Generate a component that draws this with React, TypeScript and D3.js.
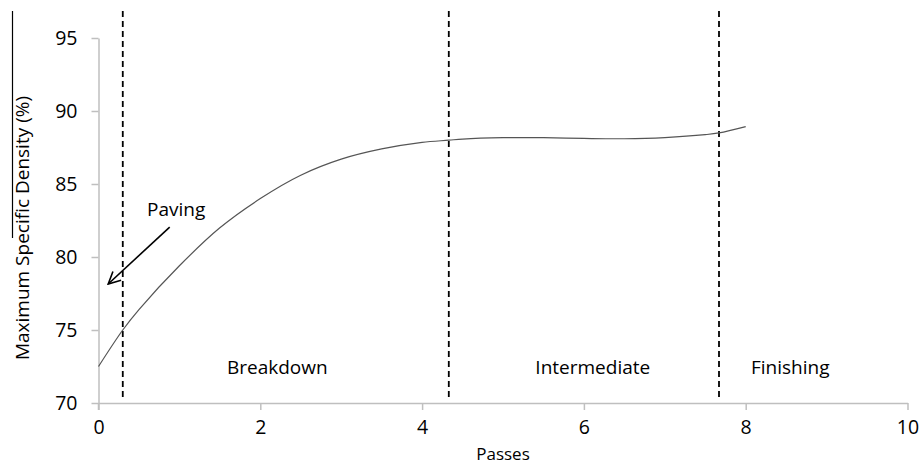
import { useEffect, useRef } from 'react'
import * as d3 from 'd3'

// density curve
const passes = [0, 0.3, 0.5, 1, 1.5, 2, 2.5, 3, 3.5, 4, 4.33, 4.5, 5, 5.5, 6, 6.5, 7, 7.5, 7.67, 8]
const density = [72.5, 75.0, 76.4, 79.4, 82.0, 84.0, 85.6, 86.7, 87.4, 87.85, 88.0, 88.08, 88.17, 88.17, 88.12, 88.1, 88.18, 88.38, 88.5, 88.93]

const phaseBounds = [0.3, 4.33, 7.67]
const phaseLabels = ['Breakdown', 'Intermediate', 'Finishing']
const phaseLabelX = [2.21, 6.11, 8.55]

const xTicks = [0, 2, 4, 6, 8, 10]
const yTicks = [70, 75, 80, 85, 90, 95]

const width = 922
const height = 466
const font = "'Open Sans', sans-serif"

export default function App() {
  const svgRef = useRef<SVGSVGElement>(null)

  useEffect(() => {
    if (!svgRef.current) return
    const svg = d3.select(svgRef.current)
    svg.selectAll('*').remove()

    const x = d3.scaleLinear().domain([0, 10]).range([98.5, 907.5])
    const y = d3.scaleLinear().domain([70, 95]).range([403, 38])

    const axisColor = '#bfbfbf'

    // X axis
    const gx = svg.append('g').attr('transform', `translate(0,${y(70)})`)
      .call(d3.axisBottom(x).tickValues(xTicks).tickSize(7).tickSizeOuter(0).tickPadding(10))
    gx.selectAll('text').attr('fill', '#000').attr('font-size', 19.5).attr('font-family', font)

    // Y axis
    const gy = svg.append('g').attr('transform', `translate(${x(0)},0)`)
      .call(d3.axisLeft(y).tickValues(yTicks).tickSize(7).tickSizeOuter(0).tickPadding(14))
    gy.selectAll('text').attr('fill', '#000').attr('font-size', 19.5).attr('font-family', font)

    svg.selectAll('.domain').attr('stroke', axisColor).attr('stroke-width', 1.5)
    svg.selectAll('.tick line').attr('stroke', axisColor).attr('stroke-width', 1.5)

    // y axis reaches down past the x axis
    svg.append('line')
      .attr('x1', x(0)).attr('x2', x(0))
      .attr('y1', y(70)).attr('y2', y(70) + 7)
      .attr('stroke', axisColor).attr('stroke-width', 1.5)

    // phase boundaries
    phaseBounds.forEach(b => {
      svg.append('line')
        .attr('x1', x(b)).attr('x2', x(b))
        .attr('y1', y(96.85)).attr('y2', y(70.3))
        .attr('stroke', '#000').attr('stroke-width', 1.8)
        .attr('stroke-dasharray', '6,4')
    })

    phaseLabels.forEach((t, i) => {
      svg.append('text')
        .attr('x', x(phaseLabelX[i])).attr('y', y(72))
        .attr('text-anchor', 'middle')
        .attr('font-size', 19).attr('font-family', font)
        .text(t)
    })

    // curve
    const line = d3.line<number>()
      .x((_, i) => x(passes[i]))
      .y(d => y(d))
      .curve(d3.curveCatmullRom.alpha(0.5))
    svg.append('path')
      .attr('d', line(density))
      .attr('fill', 'none')
      .attr('stroke', '#555')
      .attr('stroke-width', 1.2)

    // Paving arrow
    svg.append('defs').append('marker')
      .attr('id', 'head')
      .attr('viewBox', '0 0 14 14')
      .attr('refX', 13).attr('refY', 7)
      .attr('markerWidth', 14).attr('markerHeight', 14)
      .attr('markerUnits', 'userSpaceOnUse')
      .attr('orient', 'auto')
      .append('path')
      .attr('d', 'M1,1 L13,7 L1,13')
      .attr('fill', 'none').attr('stroke', '#000').attr('stroke-width', 1.6)

    svg.append('line')
      .attr('x1', x(0.88)).attr('y1', y(82.05))
      .attr('x2', x(0.12)).attr('y2', y(78.15))
      .attr('stroke', '#000').attr('stroke-width', 1.6)
      .attr('marker-end', 'url(#head)')

    svg.append('text')
      .attr('x', x(0.96)).attr('y', y(82.8))
      .attr('text-anchor', 'middle')
      .attr('font-size', 19).attr('font-family', font)
      .text('Paving')

    // axis titles
    svg.append('text')
      .attr('x', x(5)).attr('y', 460)
      .attr('text-anchor', 'middle')
      .attr('font-size', 17).attr('font-family', font)
      .text('Passes')

    svg.append('text')
      .attr('transform', `translate(29,228) rotate(-90)`)
      .attr('text-anchor', 'middle')
      .attr('font-size', 19).attr('font-family', font)
      .text('Maximum Specific Density (%)')

    // stray rule at the left edge
    svg.append('line')
      .attr('x1', 12.5).attr('x2', 12.5)
      .attr('y1', 11).attr('y2', 238)
      .attr('stroke', '#000').attr('stroke-width', 1.2)
  }, [])

  return (
    <svg ref={svgRef} width={width} height={height}
      style={{ position: 'absolute', left: 0, top: 0, background: '#fff' }} />
  )
}
